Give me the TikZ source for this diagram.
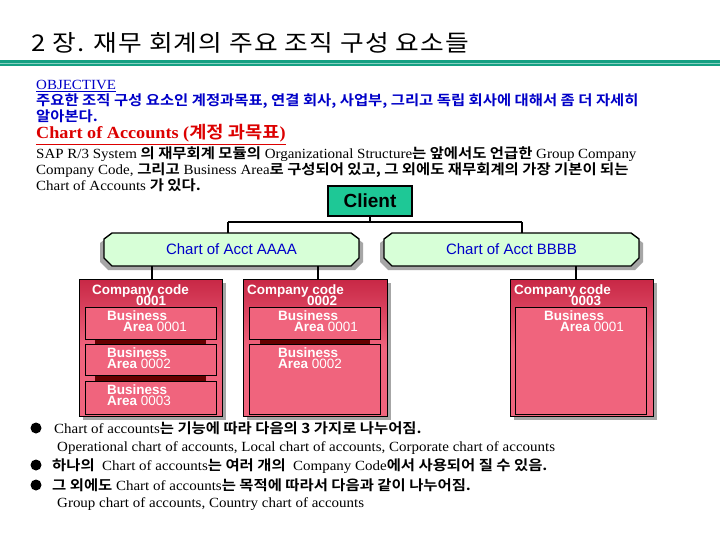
\documentclass[tikz,border=0pt]{standalone}
\usepackage{fontspec}
\setmainfont{Liberation Serif}[FakeStretch=1.07]
\setsansfont{Liberation Sans}
\newfontfamily\krf{Noto Sans CJK KR}[BoldFont={Noto Sans CJK KR Bold},FakeStretch=1.1]
\newfontfamily\krt{Noto Sans CJK KR}[FakeStretch=1.12,LetterSpace=5]
\newcommand{\K}[1]{{\krf\bfseries #1}}
\usetikzlibrary{shadows}
\definecolor{teal1}{RGB}{20,160,130}
\definecolor{clientg}{RGB}{30,200,150}
\definecolor{lgreen}{RGB}{215,255,215}
\definecolor{pinkf}{RGB}{240,100,125}
\definecolor{redb}{RGB}{200,40,70}
\definecolor{blue1}{RGB}{0,0,200}
\definecolor{red1}{RGB}{220,0,0}
\begin{document}
\begin{tikzpicture}[x=1pt,y=-1pt,
  txt/.style={anchor=base west,inner sep=0pt,font=\fontsize{14}{15}\selectfont},
  conn/.style={line width=1.6pt},
  ccbox/.style={draw=black,line width=1.4pt,top color=redb,bottom color=pinkf,middle color=pinkf,anchor=north west,inner sep=0pt,
     drop shadow={shadow xshift=3pt,shadow yshift=-3pt,fill=gray!70,opacity=1}},
  babox/.style={draw=black,line width=1.4pt,fill=pinkf,anchor=north west,inner sep=0pt},
  wt/.style={text=white,font=\sffamily\bfseries\fontsize{13.5}{12}\selectfont,inner sep=0pt,anchor=base west},
  octo/.style={fill=lgreen,draw=black,line width=1.4pt},
  octs/.style={fill=gray!70}]
\useasboundingbox (0,0) rectangle (720,540);
\fill[white] (0,0) rectangle (720,540);
% title
\node[txt,font=\fontsize{23}{24}\selectfont] (title) at (31,52) {{\krt 2 장. 재무 회계의 주요 조직 구성 요소들}};
\fill[teal1] (0,60) rectangle (720,66);
\fill[teal1!50] (0,63) rectangle (720,64);
% objective
\node[txt,text=blue1] (obj) at (36,90) {\underline{OBJECTIVE}};
\node[txt,text=blue1] (o1) at (36,106) {\K{주요한 조직 구성 요소인 계정과목표, 연결 회사, 사업부, 그리고 독립 회사에 대해서 좀 더 자세히}};
\node[txt,text=blue1] (o2) at (36,122) {\K{알아본다.}};
\node[txt,text=red1,font=\bfseries\fontsize{17}{18}\selectfont] (coa) at (36,139) {\underline{Chart of Accounts (\K{계정 과목표})}};
\node[txt] (s1) at (36,159) {SAP R/3 System \K{의 재무회계 모듈의} Organizational Structure\K{는 앞에서도 언급한} Group Company};
\node[txt] (s2) at (36,175) {Company Code, \K{그리고} Business Area\K{로 구성되어 있고, 그 외에도 재무회계의 가장 기본이 되는}};
\node[txt] (s3) at (36,191) {Chart of Accounts \K{가 있다.}};
% client
\node[draw=black,line width=1.2pt,fill=clientg,minimum width=84pt,minimum height=30pt,inner sep=0pt,font=\sffamily\bfseries\fontsize{19}{20}\selectfont] (client) at (370,201) {Client};
% octagons
\fill[octs] (108,237)--(355,237)--(363,243)--(363,262)--(355,270)--(108,270)--(100,262)--(100,243)--cycle;
\fill[octs] (388,237)--(635,237)--(643,243)--(643,262)--(635,270)--(388,270)--(380,262)--(380,243)--cycle;
\path[octo] (112,233)--(351,233)--(359,239)--(359,258)--(351,266)--(112,266)--(104,258)--(104,239)--cycle;
\path[octo] (392,233)--(631,233)--(639,239)--(639,258)--(631,266)--(392,266)--(384,258)--(384,239)--cycle;
\node[inner sep=0pt,text=blue1,font=\sffamily\fontsize{15}{16}\selectfont,minimum width=255pt,minimum height=33pt] (A) at (231.5,249.5) {Chart of Acct AAAA};
\node[inner sep=0pt,text=blue1,font=\sffamily\fontsize{15}{16}\selectfont,minimum width=255pt,minimum height=33pt] (B) at (511.5,249.5) {Chart of Acct BBBB};
% company codes
\node[ccbox,minimum width=143pt,minimum height=137pt] (c1) at (79,279) {};
\node[ccbox,minimum width=144pt,minimum height=137pt] (c2) at (243,279) {};
\node[ccbox,minimum width=143pt,minimum height=137pt] (c3) at (510,279) {};
% connectors
\coordinate (j) at (370,222);
\draw[conn] (client.south) -- (j);
\draw[conn] (228,222) -- (522,222);
\draw[conn] (228,222) -- (228,233);
\draw[conn] (522,222) -- (522,233);
\draw[conn] (152,266) -- (c1.north -| 152,0);
\draw[conn] (318,266) -- (c2.north -| 318,0);
\draw[conn] (576,266) -- (c3.north -| 576,0);
% business areas
\fill[black!60!red] (95,339) rectangle (206,344);
\fill[black!60!red] (95,375) rectangle (206,381);
\fill[black!60!red] (260,339) rectangle (370,344);
\node[babox,minimum width=131pt,minimum height=32pt] (b11) at (85,307) {};
\node[babox,minimum width=131pt,minimum height=31pt] (b12) at (85,344) {};
\node[babox,minimum width=131pt,minimum height=33pt] (b13) at (85,381) {};
\node[babox,minimum width=131pt,minimum height=32pt] (b21) at (249,307) {};
\node[babox,minimum width=131pt,minimum height=70pt] (b22) at (249,344) {};
\node[babox,minimum width=131pt,minimum height=107pt] (b31) at (515,307) {};
% labels
\node[wt] (t1) at (92,294) {Company code};
\node[wt] (t1b) at (136,305) {0001};
\node[wt] (t2) at (247,294) {Company code};
\node[wt] (t2b) at (307,305) {0002};
\node[wt] (t3) at (514,294) {Company code};
\node[wt] (t3b) at (571,305) {0003};
\node[wt] (l11) at (107,320) {Business};
\node[wt] (l11b) at (123,331.5) {Area {\mdseries 0001}};
\node[wt] (l12) at (107,357) {Business};
\node[wt] (l12b) at (107,368.5) {Area {\mdseries 0002}};
\node[wt] (l13) at (107,394) {Business};
\node[wt] (l13b) at (107,405.5) {Area {\mdseries 0003}};
\node[wt] (l21) at (278,320) {Business};
\node[wt] (l21b) at (294,331.5) {Area {\mdseries 0001}};
\node[wt] (l22) at (278,357) {Business};
\node[wt] (l22b) at (278,368.5) {Area {\mdseries 0002}};
\node[wt] (l31) at (544,320) {Business};
\node[wt] (l31b) at (560,331.5) {Area {\mdseries 0001}};
% bullets
\fill (36,428) circle (5.5);
\fill (36,465) circle (5.5);
\fill (36,485) circle (5.5);
\node[txt] (p1) at (54,433) {Chart of accounts\K{는 기능에 따라 다음의 3 가지로 나누어짐.}};
\node[txt] (p2) at (57,451) {Operational chart of accounts, Local chart of accounts, Corporate chart of accounts};
\node[txt] (p3) at (52,470) {\K{하나의}\ \ Chart of accounts\K{는 여러 개의}\ \ Company Code\K{에서 사용되어 질 수 있음.}};
\node[txt] (p4) at (52,490) {\K{그 외에도} Chart of accounts\K{는 목적에 따라서 다음과 같이 나누어짐.}};
\node[txt] (p5) at (57,507) {Group chart of accounts, Country chart of accounts};
\end{tikzpicture}
\end{document}
